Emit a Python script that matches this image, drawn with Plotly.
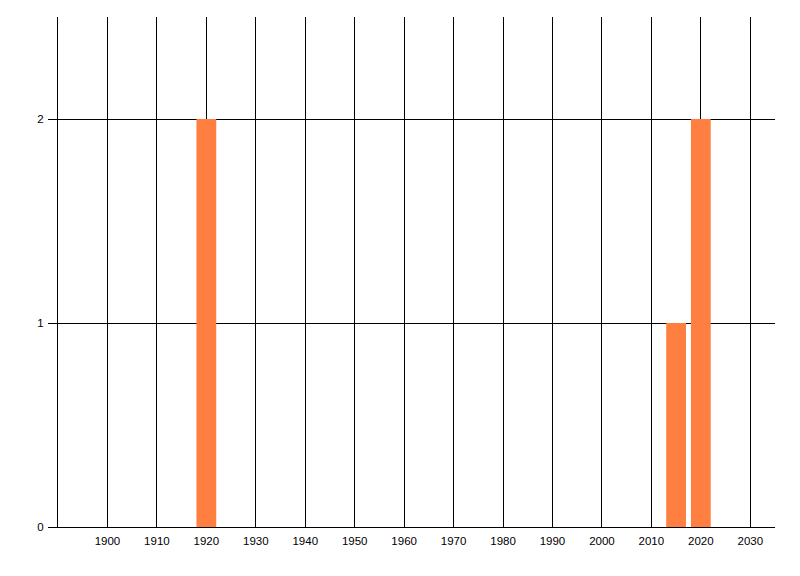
import plotly.graph_objects as go

years = [1920, 2015, 2020]
counts = [2, 1, 2]
x_ticks = list(range(1900, 2031, 10))
y_ticks = [0, 1, 2]

fig = go.Figure(go.Bar(
    x=years, y=counts, width=4,
    marker=dict(color="rgb(255,127,64)", line=dict(width=0)),
))

fig.update_layout(
    width=800, height=576,
    margin=dict(l=58, r=25, t=17, b=49, autoexpand=False),
    paper_bgcolor="white", plot_bgcolor="white",
    showlegend=False,
    font=dict(family="Liberation Sans, Arial, sans-serif", size=11.5, color="black"),
)
fig.update_xaxes(
    range=[1890, 2035], tickvals=x_ticks, ticktext=[str(v) for v in x_ticks],
    showgrid=True, gridcolor="black", gridwidth=1,
    showline=True, linecolor="black", linewidth=1,
    ticks="", zeroline=False, ticklabelstandoff=3, automargin=False,
)
fig.update_yaxes(
    range=[0, 2.5], tickvals=y_ticks, ticktext=[str(v) for v in y_ticks],
    showgrid=True, gridcolor="black", gridwidth=1,
    showline=True, linecolor="black", linewidth=1,
    ticks="outside", ticklen=9, tickcolor="black", tickwidth=1,
    zeroline=False, ticklabelstandoff=2, automargin=False,
)
fig.write_html("out.html", config={"displayModeBar": False},
               post_script="document.body.style.margin='0';document.body.style.overflow='hidden';")
